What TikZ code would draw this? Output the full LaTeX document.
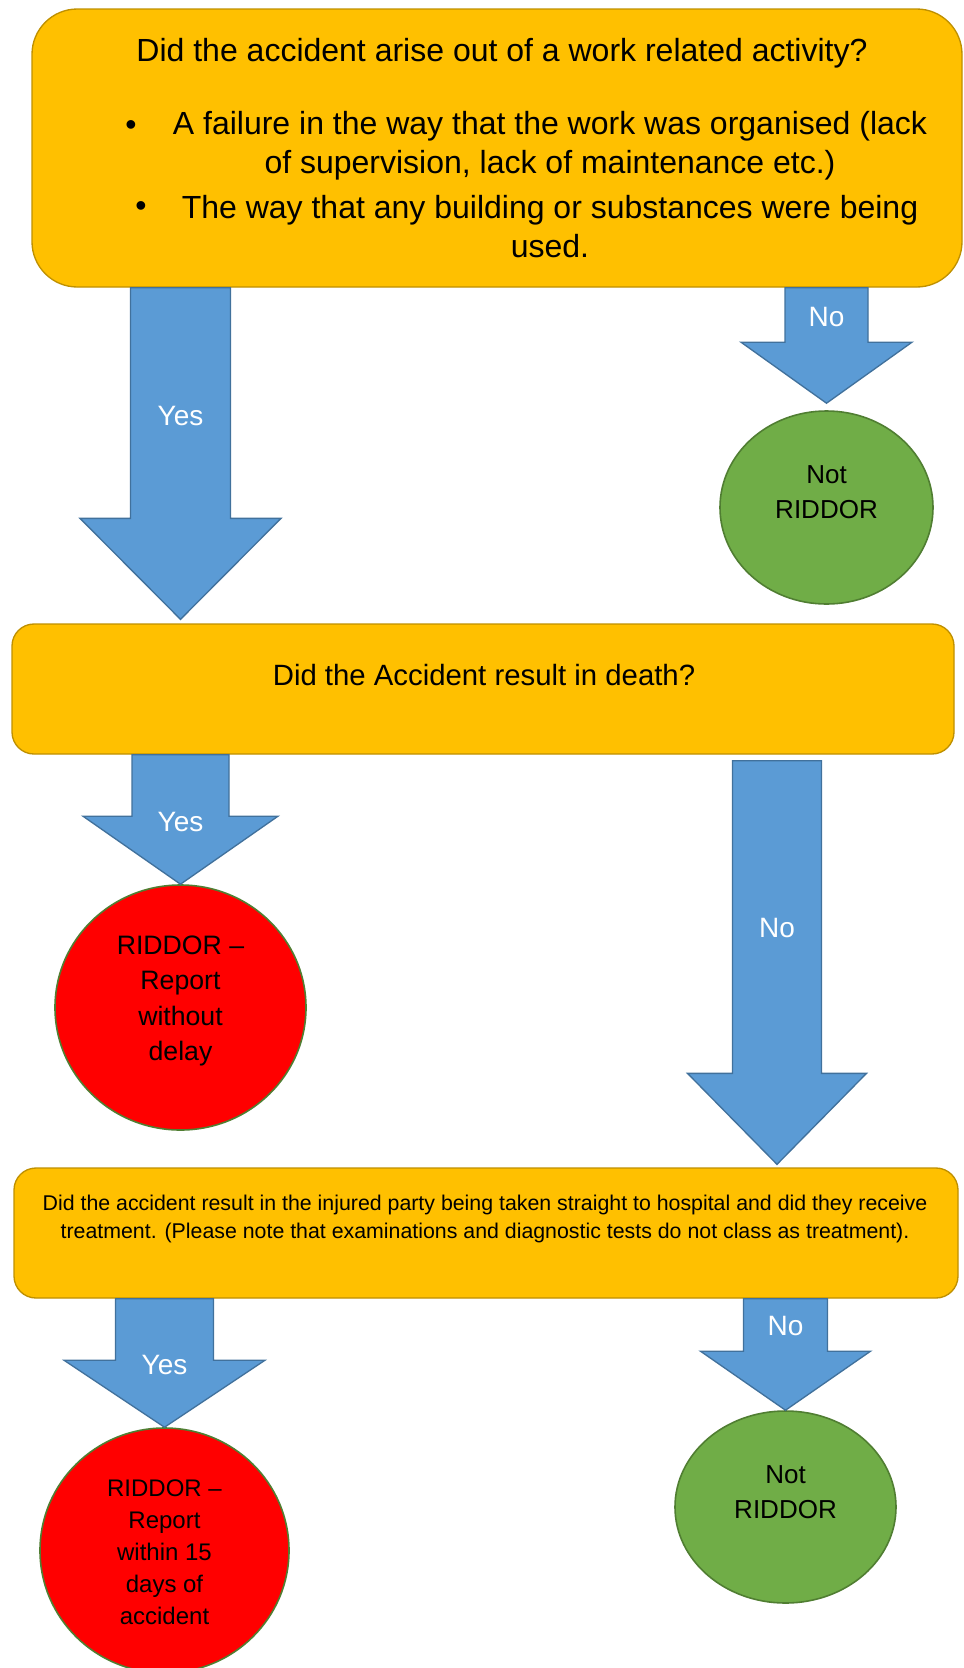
\documentclass[tikz,border=0pt]{standalone}
\usepackage{fontspec}
\setmainfont{Liberation Sans}
\usetikzlibrary{shapes.geometric,calc,positioning}

\definecolor{boxgold}{HTML}{FFC000}
\definecolor{boxedge}{HTML}{BF9000}
\definecolor{arrowblue}{HTML}{5B9BD5}
\definecolor{arrowedge}{HTML}{41719C}
\definecolor{safegreen}{HTML}{70AD47}
\definecolor{greenedge}{HTML}{507E32}
\definecolor{reportred}{HTML}{FF0000}

\newcommand{\fsize}[2]{\fontsize{#1}{#2}\selectfont}

% block arrow: top (y only), tip, shaft half width, head half width, head length, label, label drop
\newcommand{\blockarrow}[7]{%
  \draw[bigarrow] let \p1=(#1), \p2=(#2) in
    (\x2-#3*0.75pt,\y1) -- (\x2+#3*0.75pt,\y1) -- (\x2+#3*0.75pt,\y2+#5*0.75pt)
    -- (\x2+#4*0.75pt,\y2+#5*0.75pt) -- (\x2,\y2)
    -- (\x2-#4*0.75pt,\y2+#5*0.75pt) -- (\x2-#3*0.75pt,\y2+#5*0.75pt) -- cycle;
  \path let \p1=(#1), \p2=(#2) in node[arrowtext] at (\x2,\y1-#7*0.75pt) {#6};
}

\begin{document}
\begin{tikzpicture}[x=0.75pt, y=-0.75pt,
    qbox/.style={draw=boxedge, fill=boxgold, line width=1pt, rounded corners=16.5pt, inner sep=0pt},
    qtext/.style={inner sep=0pt, text=black},
    goodend/.style={ellipse, draw=greenedge, fill=safegreen, line width=1.2pt, inner sep=0pt},
    badend/.style={ellipse, draw=greenedge, fill=reportred, line width=1.2pt, inner sep=0pt},
    endtext/.style={inner sep=0pt, align=center, text=black},
    bigarrow/.style={draw=arrowedge, fill=arrowblue, line width=1pt, line join=miter},
    arrowtext/.style={inner sep=0pt, text=white, font=\fsize{21}{25}}]
  \useasboundingbox (0,0) rectangle (964,1668);

  \node[qbox, minimum width=697.5pt, minimum height=208.5pt, rounded corners=34pt] (q1) at (497,148) {};
  \node[qbox, minimum width=706.5pt, minimum height=97.5pt] (q2) at (483,689) {};
  \node[qbox, minimum width=708pt, minimum height=97.5pt] (q3) at (486,1233) {};

  \node[goodend, minimum width=159.75pt, minimum height=144.75pt] (no1) at (826.5,507.5) {};
  \node[badend, minimum width=188.25pt, minimum height=183.75pt] (yes2) at (180.5,1007.5) {};
  \node[badend, minimum width=186.75pt, minimum height=183.75pt] (yes3) at (164.5,1550.5) {};
  \node[goodend, minimum width=165.75pt, minimum height=144pt] (no3) at (785.5,1507) {};

  \node[qtext, font=\fsize{24}{29.25}] (q1title) at (502,53) {Did the accident arise out of a work related activity?};
  \node[qtext, font=\fsize{24}{29.25}] (dot1) at (131,128) {\textbullet};
  \node[qtext, align=center, font=\fsize{24}{29.25}] (item1) at (550,146)
    {A failure in the way that the work was organised (lack\\of supervision, lack of maintenance etc.)};
  \node[qtext, font=\fsize{24}{29.25}] (dot2) at (141,209) {\textbullet};
  \node[qtext, align=center, font=\fsize{24}{29.25}] (item2) at (550,227)
    {The way that any building or substances were being\\used.};

  \node[qtext, font=\fsize{22}{26}] (q2text) at (484,675) {Did the Accident result in death?};
  \node[qtext, align=center, font=\fsize{16}{21}] (q3text) at (485,1219)
    {Did the accident result in the injured party being taken straight to hospital and did they receive\\
     treatment. (Please note that examinations and diagnostic tests do not class as treatment).};

  \node[endtext, font=\fsize{19.5}{26.25}] (no1text) at ([yshift=11.25pt]no1.center) {Not\\RIDDOR};
  \node[endtext, font=\fsize{20}{26.5}] (yes2text) at ([yshift=5pt]yes2.center) {RIDDOR --\\Report\\without\\delay};
  \node[endtext, font=\fsize{18}{24}] (yes3text) at ([yshift=-1.5pt]yes3.center) {RIDDOR --\\Report\\within 15\\days of\\accident};
  \node[endtext, font=\fsize{19.5}{26.25}] (no3text) at ([yshift=11pt]no3.center) {Not\\RIDDOR};

  \path (q2.north -| yes2.north) ++(0,-4) coordinate (atip);
  \path (no1.north) ++(0,-7) coordinate (btip);
  \path (q2.south) ++(0,6) coordinate (dtop);
  \path (q3.north) ++(291,-3) coordinate (dtip);

  \blockarrow{q1.south}{atip}{50}{100.5}{101}{Yes}{128}
  \blockarrow{q1.south}{btip}{41.5}{85.5}{61}{No}{29}
  \blockarrow{q2.south}{yes2.north}{48.5}{97.5}{68}{Yes}{67}
  \blockarrow{dtop}{dtip}{44.5}{89.5}{91}{No}{167}
  \blockarrow{q3.south}{yes3.north}{49}{100.5}{67}{Yes}{66}
  \blockarrow{q3.south}{no3.north}{42}{85}{59}{No}{27}
\end{tikzpicture}
\end{document}
